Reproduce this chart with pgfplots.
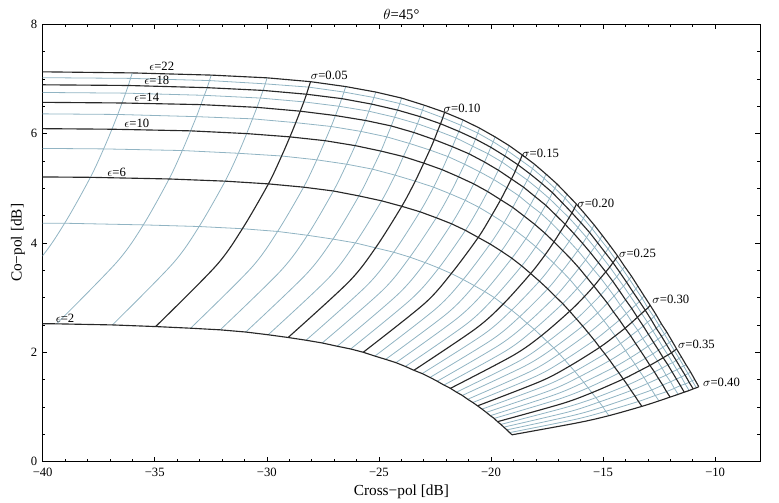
\documentclass[border=0pt]{standalone}
\usepackage{fontspec}
\setmainfont{Liberation Serif}
\usepackage{pgfplots}
\usepackage{pgfplotstable}
\pgfplotsset{compat=1.18}
\definecolor{darkl}{RGB}{40,40,40}
\definecolor{lightl}{RGB}{145,180,195}
\pgfplotsset{
  lightline/.style={color=lightl, line width=0.6pt, mark=none},
  darkline/.style={color=darkl, line width=0.85pt, mark=none},
}
\pgfplotstableread{
n x2 y2 x3 y3 x4 y4 x6 y6 x8 y8 x10 y10 x12 y12 x14 y14 x16 y16 x18 y18 x20 y20 x22 y22
1 -48.91 2.54 -46.22 3.68 -45.04 4.37 -43.89 5.22 -43.30 5.74 -42.93 6.10 -42.67 6.37 -42.48 6.58 -42.32 6.76 -42.20 6.90 -42.10 7.03 -42.02 7.14
2 -42.90 2.53 -40.20 3.67 -39.02 4.36 -37.87 5.20 -37.28 5.72 -36.91 6.08 -36.65 6.35 -36.46 6.56 -36.30 6.74 -36.18 6.88 -36.08 7.01 -36.00 7.11
3 -39.38 2.52 -36.69 3.65 -35.51 4.33 -34.36 5.17 -33.77 5.69 -33.40 6.05 -33.14 6.31 -32.94 6.53 -32.79 6.70 -32.66 6.84 -32.56 6.97 -32.48 7.07
4 -36.89 2.50 -34.20 3.62 -33.02 4.30 -31.86 5.13 -31.27 5.64 -30.90 6.00 -30.64 6.27 -30.44 6.48 -30.29 6.65 -30.17 6.79 -30.07 6.91 -29.99 7.02
5 -34.96 2.47 -32.27 3.58 -31.09 4.26 -29.93 5.08 -29.34 5.59 -28.97 5.94 -28.71 6.20 -28.51 6.41 -28.35 6.58 -28.23 6.72 -28.13 6.85 -28.05 6.95
6 -33.40 2.44 -30.70 3.54 -29.52 4.21 -28.36 5.02 -27.77 5.52 -27.40 5.87 -27.13 6.13 -26.94 6.33 -26.78 6.50 -26.66 6.64 -26.56 6.76 -26.48 6.86
7 -32.08 2.41 -29.38 3.49 -28.19 4.14 -27.03 4.95 -26.44 5.44 -26.06 5.78 -25.80 6.04 -25.60 6.24 -25.45 6.41 -25.33 6.54 -25.22 6.66 -25.14 6.76
8 -30.94 2.37 -28.24 3.43 -27.05 4.07 -25.89 4.86 -25.29 5.35 -24.91 5.68 -24.65 5.94 -24.45 6.14 -24.30 6.30 -24.17 6.43 -24.07 6.55 -23.99 6.65
9 -29.94 2.32 -27.24 3.36 -26.05 4.00 -24.88 4.77 -24.28 5.24 -23.91 5.58 -23.64 5.82 -23.44 6.02 -23.28 6.18 -23.16 6.31 -23.06 6.43 -22.98 6.52
10 -29.05 2.27 -26.34 3.29 -25.15 3.91 -23.98 4.67 -23.38 5.13 -23.00 5.46 -22.73 5.70 -22.53 5.89 -22.38 6.05 -22.25 6.18 -22.15 6.29 -22.07 6.39
11 -28.25 2.22 -25.54 3.22 -24.34 3.83 -23.17 4.57 -22.56 5.02 -22.18 5.34 -21.92 5.58 -21.72 5.76 -21.56 5.92 -21.43 6.04 -21.33 6.15 -21.25 6.25
12 -27.53 2.17 -24.82 3.14 -23.62 3.74 -22.44 4.46 -21.83 4.90 -21.45 5.21 -21.18 5.44 -20.98 5.63 -20.82 5.77 -20.69 5.90 -20.59 6.01 -20.51 6.10
13 -26.86 2.11 -24.15 3.06 -22.94 3.64 -21.76 4.35 -21.15 4.78 -20.77 5.08 -20.50 5.30 -20.29 5.48 -20.13 5.63 -20.01 5.75 -19.90 5.85 -19.82 5.94
14 -26.26 2.06 -23.54 2.98 -22.33 3.54 -21.14 4.23 -20.53 4.65 -20.15 4.94 -19.88 5.16 -19.67 5.33 -19.51 5.48 -19.38 5.59 -19.28 5.69 -19.19 5.78
15 -25.70 2.00 -22.97 2.89 -21.77 3.44 -20.57 4.10 -19.96 4.51 -19.57 4.79 -19.29 5.01 -19.09 5.17 -18.92 5.31 -18.80 5.43 -18.69 5.52 -18.61 5.61
16 -25.18 1.93 -22.45 2.80 -21.24 3.33 -20.04 3.98 -19.42 4.37 -19.03 4.65 -18.75 4.86 -18.55 5.02 -18.38 5.15 -18.25 5.26 -18.15 5.36 -18.06 5.44
17 -24.70 1.87 -21.96 2.71 -20.75 3.22 -19.54 3.85 -18.92 4.23 -18.52 4.49 -18.25 4.69 -18.04 4.85 -17.87 4.98 -17.74 5.09 -17.63 5.18 -17.55 5.26
18 -24.24 1.81 -21.51 2.62 -20.28 3.11 -19.07 3.72 -18.44 4.08 -18.05 4.34 -17.77 4.54 -17.56 4.69 -17.39 4.81 -17.26 4.92 -17.15 5.00 -17.06 5.08
19 -23.82 1.74 -21.08 2.52 -19.85 3.00 -18.63 3.58 -18.00 3.93 -17.60 4.18 -17.32 4.37 -17.11 4.51 -16.94 4.63 -16.81 4.73 -16.70 4.82 -16.61 4.89
20 -23.44 1.67 -20.69 2.43 -19.46 2.88 -18.23 3.44 -17.59 3.78 -17.19 4.02 -16.91 4.20 -16.69 4.34 -16.52 4.46 -16.39 4.55 -16.28 4.63 -16.19 4.71
21 -23.07 1.61 -20.32 2.33 -19.08 2.77 -17.84 3.30 -17.20 3.63 -16.80 3.86 -16.51 4.03 -16.30 4.17 -16.12 4.28 -15.99 4.37 -15.88 4.45 -15.79 4.52
22 -22.72 1.54 -19.96 2.23 -18.72 2.65 -17.47 3.16 -16.83 3.48 -16.42 3.70 -16.13 3.86 -15.91 3.99 -15.74 4.10 -15.60 4.19 -15.49 4.26 -15.40 4.33
23 -22.40 1.47 -19.64 2.13 -18.39 2.53 -17.13 3.02 -16.48 3.33 -16.07 3.54 -15.78 3.69 -15.56 3.82 -15.38 3.92 -15.24 4.00 -15.13 4.07 -15.04 4.14
24 -22.10 1.40 -19.32 2.03 -18.07 2.42 -16.80 2.89 -16.15 3.17 -15.73 3.37 -15.44 3.52 -15.21 3.64 -15.04 3.74 -14.90 3.82 -14.78 3.89 -14.69 3.95
25 -21.81 1.34 -19.02 1.94 -17.76 2.30 -16.49 2.75 -15.83 3.02 -15.41 3.21 -15.11 3.36 -14.88 3.47 -14.70 3.56 -14.56 3.64 -14.45 3.70 -14.35 3.76
26 -21.54 1.27 -18.74 1.84 -17.48 2.19 -16.19 2.61 -15.53 2.87 -15.10 3.05 -14.80 3.19 -14.57 3.30 -14.39 3.38 -14.25 3.46 -14.13 3.52 -14.04 3.57
27 -21.28 1.21 -18.48 1.75 -17.20 2.08 -15.91 2.48 -15.24 2.72 -14.81 2.90 -14.51 3.03 -14.28 3.13 -14.09 3.21 -13.95 3.28 -13.83 3.34 -13.73 3.39
28 -21.04 1.14 -18.24 1.65 -16.95 1.97 -15.65 2.35 -14.97 2.58 -14.54 2.74 -14.23 2.86 -14.00 2.96 -13.81 3.04 -13.66 3.10 -13.54 3.16 -13.45 3.21
29 -20.81 1.08 -18.00 1.56 -16.71 1.86 -15.39 2.22 -14.71 2.44 -14.27 2.59 -13.96 2.71 -13.72 2.80 -13.53 2.87 -13.38 2.93 -13.26 2.99 -13.17 3.03
30 -20.60 1.02 -17.78 1.47 -16.48 1.75 -15.15 2.09 -14.46 2.30 -14.02 2.44 -13.71 2.55 -13.47 2.64 -13.28 2.71 -13.12 2.77 -13.00 2.81 -12.90 2.86
31 -20.40 0.96 -17.56 1.39 -16.26 1.65 -14.92 1.97 -14.22 2.16 -13.77 2.30 -13.45 2.40 -13.21 2.48 -13.02 2.55 -12.86 2.60 -12.74 2.65 -12.64 2.69
32 -20.21 0.90 -17.37 1.30 -16.06 1.55 -14.70 1.85 -14.00 2.03 -13.55 2.16 -13.23 2.25 -12.98 2.33 -12.78 2.39 -12.63 2.44 -12.50 2.49 -12.40 2.52
33 -20.03 0.84 -17.18 1.22 -15.86 1.45 -14.49 1.73 -13.78 1.90 -13.32 2.02 -13.00 2.11 -12.75 2.18 -12.55 2.24 -12.39 2.29 -12.26 2.33 -12.16 2.37
34 -19.86 0.79 -17.00 1.14 -15.67 1.35 -14.29 1.62 -13.57 1.78 -13.11 1.89 -12.78 1.97 -12.53 2.04 -12.33 2.09 -12.17 2.14 -12.04 2.18 -11.93 2.21
35 -19.71 0.73 -16.83 1.06 -15.50 1.26 -14.10 1.51 -13.38 1.66 -12.91 1.76 -12.57 1.84 -12.32 1.90 -12.11 1.95 -11.95 1.99 -11.82 2.03 -11.72 2.06
36 -19.56 0.68 -16.67 0.99 -15.32 1.17 -13.91 1.40 -13.18 1.54 -12.71 1.64 -12.37 1.71 -12.11 1.77 -11.90 1.81 -11.74 1.85 -11.61 1.89 -11.50 1.91
37 -19.43 0.63 -16.53 0.91 -15.17 1.09 -13.75 1.30 -13.01 1.43 -12.53 1.52 -12.19 1.58 -11.92 1.64 -11.71 1.68 -11.55 1.72 -11.41 1.75 -11.30 1.77
38 -19.29 0.58 -16.38 0.84 -15.01 1.00 -13.58 1.20 -12.83 1.31 -12.34 1.40 -11.99 1.46 -11.73 1.51 -11.51 1.55 -11.34 1.58 -11.21 1.61 -11.10 1.64
39 -19.17 0.53 -16.26 0.77 -14.88 0.92 -13.42 1.10 -12.67 1.21 -12.17 1.28 -11.82 1.34 -11.55 1.39 -11.34 1.42 -11.16 1.45 -11.03 1.48 -10.91 1.50
40 -19.06 0.49 -16.13 0.71 -14.74 0.84 -13.27 1.01 -12.51 1.11 -12.01 1.18 -11.65 1.23 -11.38 1.27 -11.16 1.30 -10.98 1.33 -10.84 1.35 -10.73 1.37
}\meshtab

\newcommand{\sigmacurve}[2]{%
  \gdef\sigcoords{}%
  \foreach \e in {2,3,4,6,8,10,12,14,16,18,20,22}{%
    \edef\tmpget{\noexpand\pgfplotstablegetelem{#1}{x\e}}\tmpget\of\meshtab
    \let\xx\pgfplotsretval
    \edef\tmpget{\noexpand\pgfplotstablegetelem{#1}{y\e}}\tmpget\of\meshtab
    \let\yy\pgfplotsretval
    \xdef\sigcoords{\sigcoords (\xx,\yy)}%
  }%
  \edef\tmpplot{\noexpand\addplot[#2,smooth] coordinates {\sigcoords};}%
  \tmpplot
}

\begin{document}
\begin{tikzpicture}
\begin{axis}[
  scale only axis,
  width=538pt, height=328pt,
  xmin=-40, xmax=-8, ymin=0, ymax=8,
  xtick={-40,-35,-30,-25,-20,-15,-10},
  xticklabels={−40,−35,−30,−25,−20,−15,−10},
  ytick={0,2,4,6,8},
  yticklabels={0,2,4,6,8},
  minor x tick num=4,
  minor y tick num=3,
  tick align=inside,
  major tick length=3.5pt,
  minor tick length=2pt,
  tick style={black, line width=0.5pt},
  axis line style={black, line width=0.6pt},
  tick label style={font=\fontsize{9.5}{11}\selectfont},
  xticklabel style={yshift=-1.5pt},
  yticklabel style={xshift=-0.5pt},
  every axis x label/.style={at={(axis description cs:0.5,-0.0686)},anchor=center,font=\fontsize{11.5}{13}\selectfont},
  every axis y label/.style={at={(axis description cs:-0.0344,0.5)},rotate=90,anchor=center,font=\fontsize{11.5}{13}\selectfont},
  every axis title/.style={at={(axis description cs:0.5,1.0229)},anchor=center,font=\fontsize{11}{13}\selectfont},
  xlabel={Cross−pol [dB]},
  ylabel={Co−pol [dB]},
  title={$\theta$=45°},
]
% light epsilon curves
\addplot[lightline] table[x=x4,y=y4]{\meshtab};
\addplot[lightline] table[x=x8,y=y8]{\meshtab};
\addplot[lightline] table[x=x12,y=y12]{\meshtab};
\addplot[lightline] table[x=x16,y=y16]{\meshtab};
\addplot[lightline] table[x=x20,y=y20]{\meshtab};
% light sigma curves
\pgfplotsinvokeforeach{1,2,3,5,6,7,8,10,11,12,13,15,16,17,18,20,21,22,23,25,26,27,28,30,31,32,33,35,36,37,38}{\sigmacurve{#1}{lightline}}
% dark epsilon curves
\addplot[darkline] table[x=x2,y=y2]{\meshtab};
\addplot[darkline] table[x=x6,y=y6]{\meshtab};
\addplot[darkline] table[x=x10,y=y10]{\meshtab};
\addplot[darkline] table[x=x14,y=y14]{\meshtab};
\addplot[darkline] table[x=x18,y=y18]{\meshtab};
\addplot[darkline] table[x=x22,y=y22]{\meshtab};
% dark sigma curves
\pgfplotsinvokeforeach{4,9,14,19,24,29,34,39}{\sigmacurve{#1}{darkline}}
% labels
\begin{scope}[every node/.style={font=\fontsize{9.5}{11}\selectfont, inner sep=0pt, text=black}]
\node at (axis cs:-34.69,7.225) {$\epsilon$=22};
\node at (axis cs:-34.91,6.98) {$\epsilon$=18};
\node at (axis cs:-35.36,6.66) {$\epsilon$=14};
\node at (axis cs:-35.80,6.18) {$\epsilon$=10};
\node at (axis cs:-36.70,5.29) {$\epsilon$=6};
\node at (axis cs:-39.00,2.62) {$\epsilon$=2};
\node[anchor=west] at (axis cs:-28.05,7.07) {$\sigma$=0.05};
\node[anchor=west] at (axis cs:-22.12,6.46) {$\sigma$=0.10};
\node[anchor=west] at (axis cs:-18.62,5.63) {$\sigma$=0.15};
\node[anchor=west] at (axis cs:-16.16,4.73) {$\sigma$=0.20};
\node[anchor=west] at (axis cs:-14.30,3.81) {$\sigma$=0.25};
\node[anchor=west] at (axis cs:-12.81,2.96) {$\sigma$=0.30};
\node[anchor=west] at (axis cs:-11.67,2.15) {$\sigma$=0.35};
\node[anchor=west] at (axis cs:-10.55,1.445) {$\sigma$=0.40};
\end{scope}
\end{axis}
\path ([xshift=-32pt,yshift=-30.2pt]current axis.south west) rectangle ([xshift=14.25pt,yshift=18.2pt]current axis.north east);
\end{tikzpicture}
\end{document}
